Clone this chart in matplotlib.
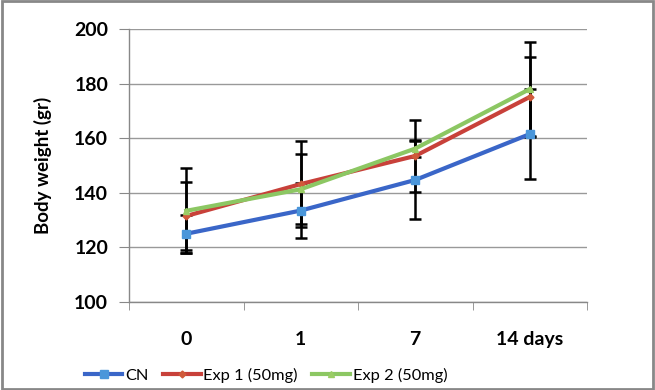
import matplotlib
matplotlib.use("Agg")
import matplotlib.pyplot as plt
from matplotlib.patches import Rectangle

categories = ["0", "1", "7", "14 days"]
cn = [125, 133.5, 144.7, 161.5]
cn_err = [7, 10, 14.4, 16.5]
exp1 = [131.5, 143.2, 153.5, 175.1]
exp1_err = [12.5, 15.7, 13.3, 14.6]
exp2 = [133.4, 141.3, 156.2, 178.0]
exp2_err = [15.6, 12.8, 3, 17.3]
series_names = ["CN", "Exp 1 (50mg)", "Exp 2 (50mg)"]

plt.rcParams['font.family'] = ['Lato', 'DejaVu Sans']

fig = plt.figure(figsize=(6.55, 3.9), dpi=100)
ax = fig.add_axes([129/655, 1-302/390, (587-129)/655, (302-29)/390])

x = list(range(len(categories)))
specs = [
    (cn, cn_err, "#3A66C8", "#4A96DA", "s", 6),
    (exp1, exp1_err, "#C8413A", "#D05A3A", "D", 3.5),
    (exp2, exp2_err, "#8CC763", "#9ACD65", "^", 5),
]
for (vals, errs, lc, mc, mk, ms), name in zip(specs, series_names):
    ax.errorbar(x, vals, yerr=errs, fmt='none', ecolor='black', elinewidth=1.8,
                capsize=4.5, capthick=1.8, zorder=2)
for (vals, errs, lc, mc, mk, ms), name in zip(specs, series_names):
    ax.plot(x, vals, color=lc, lw=3, marker=mk, markersize=ms,
            markerfacecolor=mc, markeredgecolor=mc, label=name, zorder=3)

ax.set_xlim(-0.5, 3.5)
ax.set_ylim(100, 200)
ax.set_yticks([100, 120, 140, 160, 180, 200])
ax.set_xticks(x)
ax.set_xticklabels(categories)
ax.set_xticks([-0.5, 0.5, 1.5, 2.5, 3.5], minor=True)
ax.tick_params(axis='x', which='major', length=0, pad=21)
ax.tick_params(axis='x', which='minor', length=6, color='#888888', direction='out')
ax.tick_params(axis='y', length=7, color='#888888', direction='out', pad=8)
for lab in ax.get_xticklabels() + ax.get_yticklabels():
    lab.set_fontsize(14)
    lab.set_fontweight('bold')
ax.grid(axis='y', color='#999999', lw=1)
ax.set_axisbelow(True)
for s in ['top', 'right']:
    ax.spines[s].set_visible(False)
for s in ['left', 'bottom']:
    ax.spines[s].set_color('#888888')
    ax.spines[s].set_linewidth(1)
ax.set_ylabel("Body weight (gr)", fontsize=13.5, fontweight='bold', labelpad=16)

fig.legend(loc='center left', bbox_to_anchor=(70/655, 1-375/390), ncol=3, frameon=False,
           fontsize=11.8, handlelength=2.3, columnspacing=0.9, handletextpad=0.15)

fig.patches.append(Rectangle((0.003, 0.003), 0.994, 0.994, transform=fig.transFigure,
                             fill=False, edgecolor='#888888', lw=2))

fig.savefig("out.png", dpi=100)
